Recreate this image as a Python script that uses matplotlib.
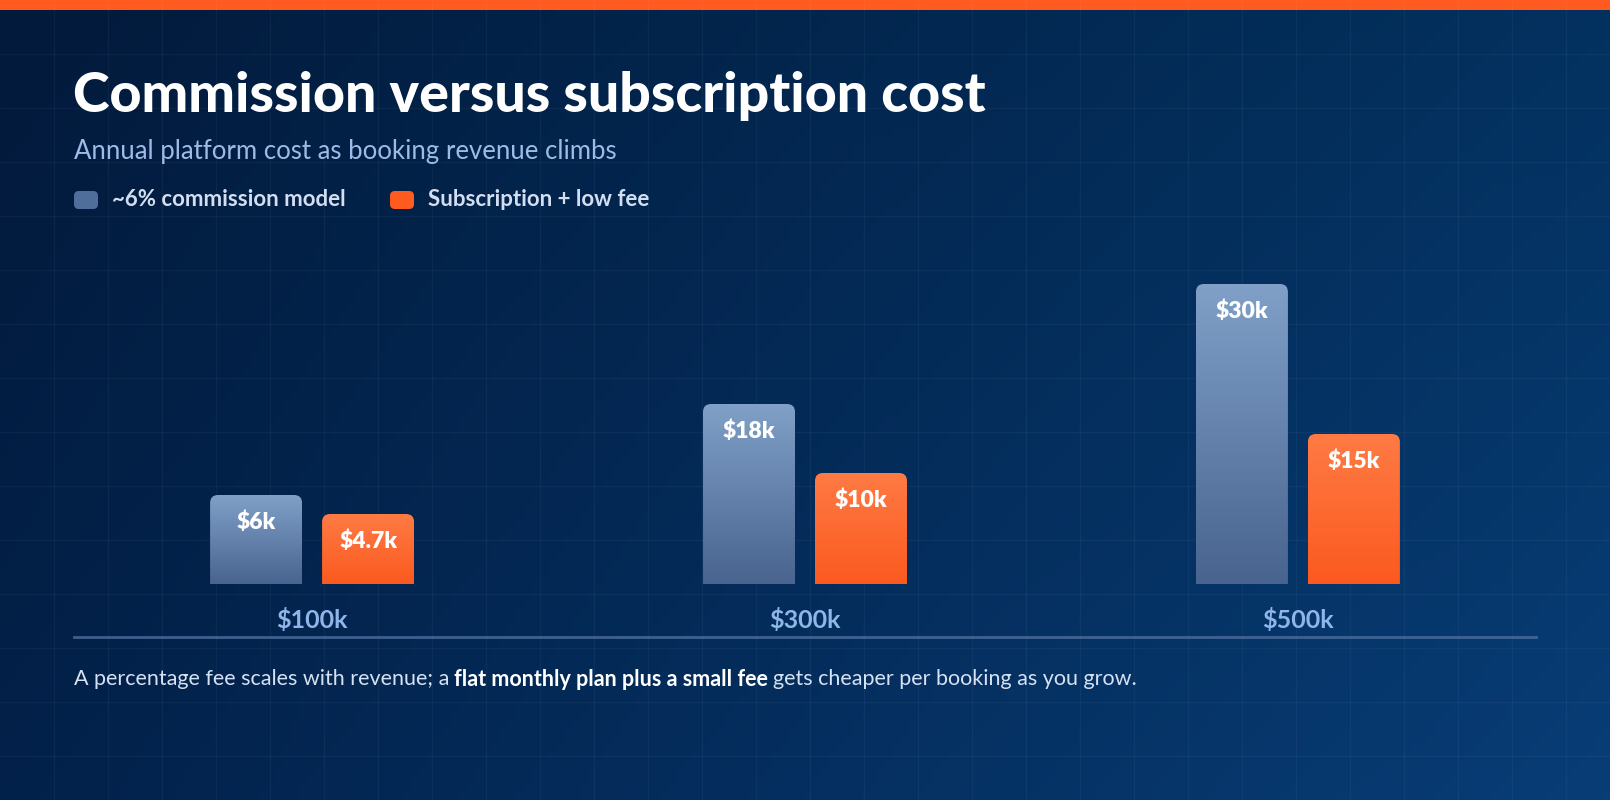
import numpy as np
import matplotlib
matplotlib.use("Agg")
import matplotlib.pyplot as plt
from matplotlib.path import Path
from matplotlib.patches import PathPatch, FancyBboxPatch, Rectangle
from matplotlib.lines import Line2D
from matplotlib.colors import to_rgb

# data (bar heights, in $k; labels as printed)
revenue = ["$100k", "$300k", "$500k"]
commission = [8.9, 18.0, 30.0]
subscription = [7.0, 11.1, 15.0]
commission_labels = ["$6k", "$18k", "$30k"]
subscription_labels = ["$4.7k", "$10k", "$15k"]
series = ["~6% commission model", "Subscription + low fee"]

W, H = 1610, 800
plt.rcParams['font.family'] = ['Lato', 'DejaVu Sans']

fig = plt.figure(figsize=(W / 100, H / 100), dpi=100)


def fx(x):
    return x / W


def fy(y):
    return 1 - y / H


# background: diagonal navy gradient + faint grid
bg = fig.add_axes([0, 0, 1, 1], zorder=-10)
bg.set_axis_off()
tl, tr = np.array(to_rgb("#021a3b")), np.array(to_rgb("#03315f"))
bl, br = np.array(to_rgb("#02214a")), np.array(to_rgb("#083d76"))
u = np.linspace(0, 1, 200)[None, :, None]
v = np.linspace(0, 1, 100)[:, None, None]
img = (tl * (1 - u) * (1 - v) + tr * u * (1 - v) + bl * (1 - u) * v + br * u * v)
bg.imshow(img, extent=[0, W, H, 0], aspect='auto')
for gx in range(54, W, 54):
    bg.axvline(gx, color='white', alpha=0.04, lw=1)
for gy in range(54, H, 54):
    bg.axhline(gy, color='white', alpha=0.04, lw=1)
bg.add_patch(Rectangle((0, 0), W, 10, color="#ff5a1f", lw=0))
bg.set_xlim(0, W)
bg.set_ylim(H, 0)

# titles
fig.text(fx(73), fy(112), "Commission versus subscription cost", color='white',
         fontsize=40, fontweight='black', va='baseline')
fig.text(fx(74), fy(152), "Annual platform cost as booking revenue climbs",
         color="#9dbbe6", fontsize=18.5, va='center')

# legend
leg_colors = ["#4f6e9a", "#ff5a1f"]
leg_x = [74, 390]
for lx, col, name in zip(leg_x, leg_colors, series):
    fig.patches.append(FancyBboxPatch((fx(lx), fy(209)), fx(24), 18 / H,
                                      boxstyle="round,pad=0,rounding_size=0.003",
                                      mutation_aspect=W / H, transform=fig.transFigure,
                                      facecolor=col, edgecolor='none'))
    fig.text(fx(lx + 38), fy(200), name, color="#d3dff1", fontsize=16,
             fontweight='bold', va='center')

# bars
ax = fig.add_axes([fx(74), fy(584), fx(1462), 340 / H])
ax.set_axis_off()

bw = 92 / 493
off = 56 / 493
rx, ry = 8 / 493, 0.8


def rounded_bar(xc, h, top, bottom, label):
    x0, x1 = xc - bw / 2, xc + bw / 2
    verts = [(x0, 0), (x0, h - ry), (x0, h), (x0 + rx, h), (x1 - rx, h),
             (x1, h), (x1, h - ry), (x1, 0), (x0, 0)]
    codes = [Path.MOVETO, Path.LINETO, Path.CURVE3, Path.CURVE3, Path.LINETO,
             Path.CURVE3, Path.CURVE3, Path.LINETO, Path.CLOSEPOLY]
    patch = PathPatch(Path(verts, codes), facecolor='none', edgecolor='none')
    ax.add_patch(patch)
    t = np.linspace(0, 1, 100)[:, None, None]
    grad = np.array(to_rgb(top)) * (1 - t) + np.array(to_rgb(bottom)) * t
    im = ax.imshow(grad, extent=[x0, x1, 0, h], aspect='auto', origin='upper')
    im.set_clip_path(patch)
    ax.annotate(label, (xc, h), xytext=(0, -27), textcoords='offset pixels',
                ha='center', va='center', color='white', fontsize=16.5,
                fontweight='heavy')


for i in range(len(revenue)):
    rounded_bar(i - off, commission[i], "#80a0c8", "#48648f", commission_labels[i])
    rounded_bar(i + off, subscription[i], "#ff7a44", "#fb5a1f", subscription_labels[i])
    ax.text(i, -36 / 340, revenue[i], transform=ax.get_xaxis_transform(),
            ha='center', va='center', color="#8fb6ea", fontsize=18,
            fontweight='bold', clip_on=False)
ax.set_xlim(-0.483, 2.483)
ax.set_ylim(0, 34)

fig.add_artist(Line2D([fx(74), fx(1536)], [fy(637), fy(637)], color="#4d6f9e",
                      lw=2, alpha=0.8))

# footnote with bold middle part
renderer = fig.canvas.get_renderer()
parts = [("A percentage fee scales with revenue; a", 'normal', "#d6e1f2"),
         ("flat monthly plan plus a small fee", 'bold', 'white'),
         ("gets cheaper per booking as you grow.", 'normal', "#d6e1f2")]
x = 74
for txt, wt, col in parts:
    t = fig.text(fx(x), fy(679), txt, color=col, fontsize=15.5, fontweight=wt,
                 va='center')
    x = t.get_window_extent(renderer).x1 + 5

fig.savefig("out.png", dpi=100)
